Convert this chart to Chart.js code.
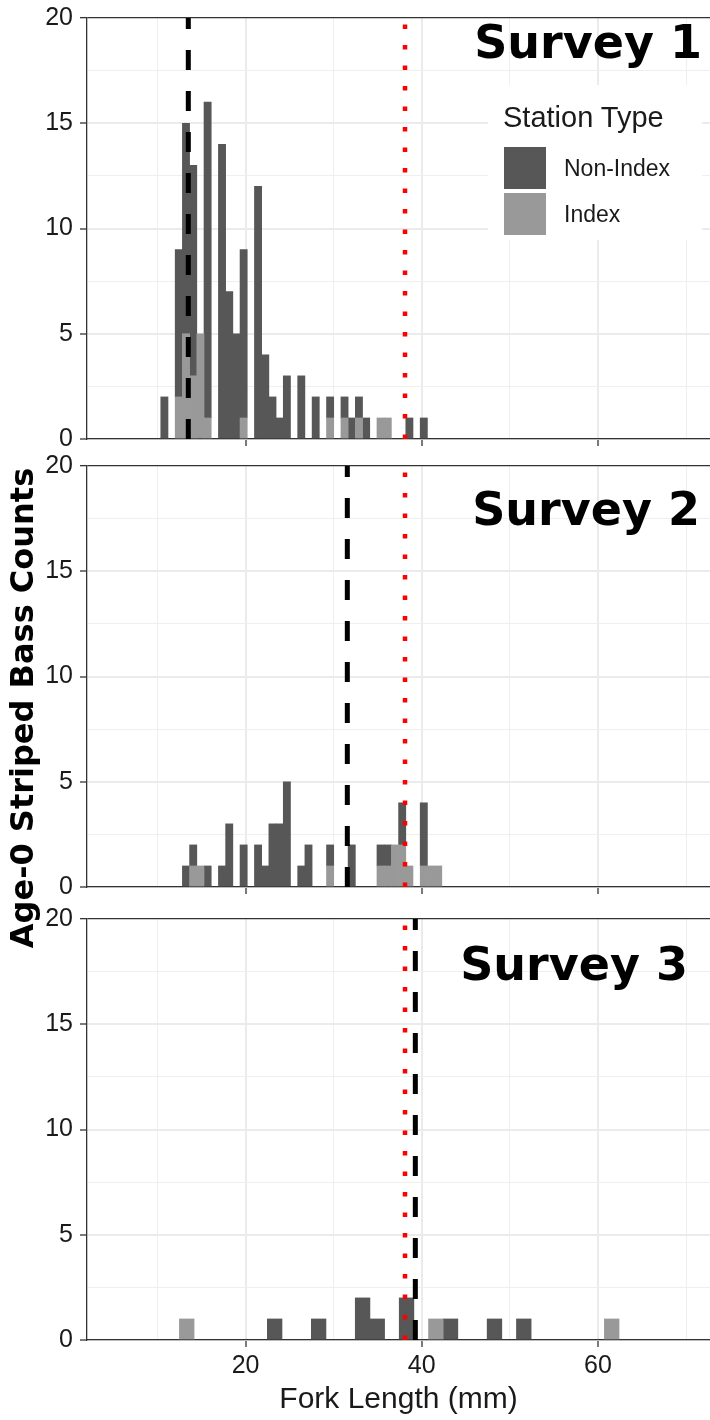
<!DOCTYPE html>
<html>
<head>
<meta charset="utf-8">
<script src="https://cdn.jsdelivr.net/npm/chart.js@4.4.0/dist/chart.umd.min.js"></script>
<style>
  body { margin: 0; width: 710px; height: 1420px; overflow: hidden; position: relative; background: #fff;
         font-family: "Liberation Sans", Arial, sans-serif; color: #1a1a1a; }
  canvas { position: absolute; left: 0; }
  .survey { position: absolute; font-family: "DejaVu Sans", Verdana, sans-serif; font-weight: bold;
            font-size: 46px; line-height: 46px; color: #000; white-space: nowrap; z-index: 5; }
  #ytitle { position: absolute; left: -278.5px; top: 692px; width: 600px; height: 32px; line-height: 32px;
            text-align: center; transform: rotate(-90deg); font-family: "DejaVu Sans", Verdana, sans-serif;
            font-weight: bold; font-size: 32px; color: #000; white-space: nowrap; }
  #legendBox { position: absolute; left: 488px; top: 85px; width: 214px; height: 155px; background: #fff; z-index: 4; }
  .lg { position: absolute; white-space: nowrap; z-index: 5; }
  .key { position: absolute; width: 42px; height: 42px; z-index: 5; }
</style>
</head>
<body>
<canvas id="panel1" width="710" height="452" style="top:0px"></canvas>
<canvas id="panel2" width="710" height="452" style="top:448px"></canvas>
<canvas id="panel3" width="710" height="518" style="top:901px"></canvas>

<div class="survey" style="right:8px; top:19px">Survey 1</div>
<div class="survey" style="right:10px; top:486px">Survey 2</div>
<div class="survey" style="right:22px; top:941px">Survey 3</div>

<div id="legendBox"></div>
<div class="lg" style="left:503px; top:103px; font-size:29px; line-height:29px">Station Type</div>
<div class="key" id="keyNon" style="left:504px; top:147px"></div>
<div class="lg" style="left:564px; top:157px; font-size:23px; line-height:23px">Non-Index</div>
<div class="key" id="keyIdx" style="left:504px; top:193px"></div>
<div class="lg" style="left:564px; top:203px; font-size:23px; line-height:23px">Index</div>

<div id="ytitle">Age-0 Striped Bass Counts</div>

<script>
// histogram bins (mm) and counts
const survey1BinStart = 10.375;
const survey1BinWidth = 0.818;
const survey1NonIndex = [2, 0, 7, 10, 10, 0, 15, 0, 14, 7, 5, 8, 0, 12, 4, 2, 1, 3, 0, 3, 0, 2, 0, 1, 0, 1, 1, 1, 1, 0, 0, 0, 0, 0, 1, 0, 1];
const survey1Index    = [0, 0, 2, 5, 3, 5, 1, 0, 0, 0, 0, 1, 0, 0, 0, 0, 0, 0, 0, 0, 0, 0, 0, 1, 0, 1, 0, 1, 0, 0, 1, 1, 0, 0, 0, 0, 0];

const survey2BinStart = 10.375;
const survey2BinWidth = 0.818;
const survey2NonIndex = [0, 0, 0, 1, 1, 0, 1, 0, 1, 3, 0, 2, 0, 2, 1, 3, 3, 5, 0, 1, 2, 0, 0, 1, 0, 0, 2, 0, 0, 0, 1, 1, 0, 2, 0, 0, 3, 0, 0];
const survey2Index    = [0, 0, 0, 0, 1, 1, 0, 0, 0, 0, 0, 0, 0, 0, 0, 0, 0, 0, 0, 0, 0, 0, 0, 1, 0, 0, 0, 0, 0, 0, 1, 1, 2, 2, 1, 0, 1, 1, 1];

const survey3BinStart = 12.49;
const survey3BinWidth = 1.6635;
const survey3NonIndex = [0, 0, 0, 0, 0, 0, 1, 0, 0, 1, 0, 0, 2, 1, 0, 2, 0, 0, 1, 0, 0, 1, 0, 1, 0, 0, 0, 0, 0, 0];
const survey3Index    = [1, 0, 0, 0, 0, 0, 0, 0, 0, 0, 0, 0, 0, 0, 0, 0, 0, 1, 0, 0, 0, 0, 0, 0, 0, 0, 0, 0, 0, 1];

// dashed line per survey, dotted line shared by all
const meanLength = [13.5, 31.55, 39.27];
const refLength = 38.1;

// axes
const xMin = 2.0;
const xMax = 72.72;
const yMin = 0;
const yMax = 20;
const xGridValues = [10, 20, 30, 40, 50, 60, 70];
const xTickLabels = [20, 40, 60];
const yGridValues = [0, 2.5, 5, 7.5, 10, 12.5, 15, 17.5, 20];
const yTickLabels = [0, 5, 10, 15, 20];

const nonIndexColor = "#575757";
const indexColor = "#999999";
const axisColor = "#333333";
const textColor = "#1a1a1a";

document.getElementById("keyNon").style.background = nonIndexColor;
document.getElementById("keyIdx").style.background = indexColor;

function gridColor(ctx, labels) {
  const v = ctx.tick.value;
  if (labels === yTickLabels && v === yMax) return axisColor; // top border of panel
  return labels.includes(v) ? "#ebebeb" : "#efefef";
}

function makePanel(id, binStart, binWidth, nonIndex, index, mean, last) {
  const centers = nonIndex.map((_, k) => binStart + binWidth * (k + 0.5));
  // empty bins are left out so no zero-height slivers show on the baseline
  const toPoints = (counts) => centers.map((x, k) => ({ x: x, y: counts[k] })).filter((p) => p.y > 0);

  return new Chart(document.getElementById(id), {
    type: "bar",
    data: {
      datasets: [
        {
          type: "line",
          label: "mean",
          data: [{ x: mean, y: yMin }, { x: mean, y: yMax }],
          borderColor: "#000000",
          borderWidth: 5,
          borderDash: [20, 21],
          borderCapStyle: "butt",
          pointRadius: 0,
          stack: "mean",
        },
        {
          type: "line",
          label: "ref",
          data: [{ x: refLength, y: yMin }, { x: refLength, y: yMax }],
          borderColor: "#ff0000",
          borderWidth: 4.5,
          borderDash: [4.5, 16],
          borderCapStyle: "butt",
          pointRadius: 0,
          stack: "ref",
        },
        {
          label: "Index",
          data: toPoints(index),
          backgroundColor: indexColor,
        },
        {
          label: "Non-Index",
          data: toPoints(nonIndex),
          backgroundColor: nonIndexColor,
        },
      ],
    },
    options: {
      responsive: false,
      animation: false,
      events: [],
      layout: { padding: { top: 18, left: 0, right: 0, bottom: last ? 1 : 5 } },
      plugins: { legend: { display: false }, tooltip: { enabled: false } },
      datasets: { bar: { barPercentage: 1, categoryPercentage: 1, borderWidth: 0 } },
      scales: {
        x: {
          type: "linear",
          min: xMin,
          max: xMax,
          stacked: true,
          offset: false,
          afterBuildTicks: (axis) => {
            axis.ticks = xGridValues.map((v) => ({ value: v }));
          },
          afterFit: (axis) => {
            axis.height = last ? 78 : 8;
            axis.paddingLeft = 0;
            axis.paddingRight = 0;
          },
          grid: {
            offset: false,
            color: (c) => gridColor(c, xTickLabels),
            lineWidth: (c) => (xTickLabels.includes(c.tick.value) ? 2 : 1),
            tickLength: 7,
            tickColor: (c) => (xTickLabels.includes(c.tick.value) ? axisColor : "rgba(0,0,0,0)"),
            tickWidth: 1.3,
          },
          border: { display: true, color: axisColor, width: 1.3 },
          ticks: {
            display: last,
            autoSkip: false,
            maxRotation: 0,
            padding: 4,
            color: textColor,
            font: { family: "'Liberation Sans', Arial", size: 25 },
            callback: (v) => (xTickLabels.includes(v) ? String(v) : ""),
          },
          title: {
            display: last,
            text: "Fork Length (mm)",
            color: textColor,
            padding: 0,
            font: { family: "'Liberation Sans', Arial", size: 30 },
          },
        },
        y: {
          min: yMin,
          max: yMax,
          stacked: true,
          afterBuildTicks: (axis) => {
            axis.ticks = yGridValues.map((v) => ({ value: v }));
          },
          afterFit: (axis) => {
            axis.width = 87;
            axis.paddingTop = 0;
            axis.paddingBottom = 0;
          },
          grid: {
            color: (c) => gridColor(c, yTickLabels),
            lineWidth: (c) => (c.tick.value === yMax ? 1.3 : yTickLabels.includes(c.tick.value) ? 2 : 1),
            tickLength: 7,
            tickColor: (c) => (yTickLabels.includes(c.tick.value) ? axisColor : "rgba(0,0,0,0)"),
            tickWidth: 1.3,
          },
          border: { display: true, color: axisColor, width: 1.3 },
          ticks: {
            autoSkip: false,
            padding: 7,
            color: textColor,
            font: { family: "'Liberation Sans', Arial", size: 25 },
            callback: (v) => (yTickLabels.includes(v) ? String(v) : ""),
          },
        },
      },
    },
  });
}

makePanel("panel1", survey1BinStart, survey1BinWidth, survey1NonIndex, survey1Index, meanLength[0], false);
makePanel("panel2", survey2BinStart, survey2BinWidth, survey2NonIndex, survey2Index, meanLength[1], false);
makePanel("panel3", survey3BinStart, survey3BinWidth, survey3NonIndex, survey3Index, meanLength[2], true);
</script>
</body>
</html>
